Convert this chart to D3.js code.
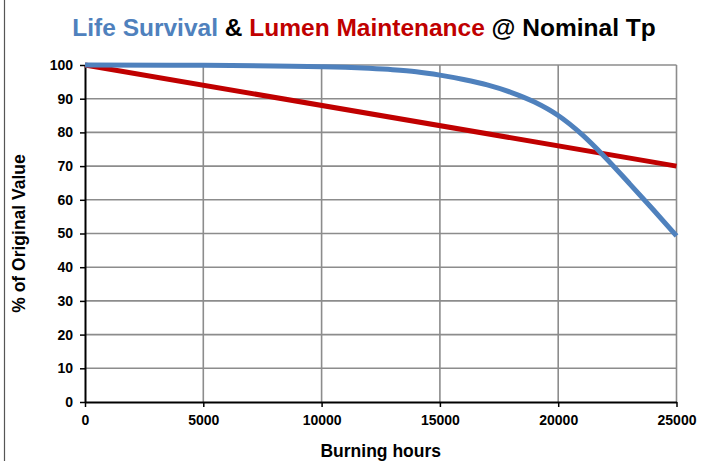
<!DOCTYPE html>
<html>
<head>
<meta charset="utf-8">
<script src="https://cdn.jsdelivr.net/npm/d3@7"></script>
<style>
html,body{margin:0;padding:0;background:#fff;}
svg{display:block;font-family:"Liberation Sans",Arial,sans-serif;}
</style>
</head>
<body>
<svg id="chart" width="717" height="461"></svg>
<script>
const hours = [0, 5000, 10000, 11000, 12000, 13000, 14000, 15000, 16000, 17000, 18000, 19000, 20000, 21000, 22000, 23000, 24000, 25000];
const lifeSurvival = [100, 99.9, 99.5, 99.3, 99.0, 98.6, 98.0, 97.0, 95.7, 94.1, 91.9, 89.0, 85.0, 79.4, 72.5, 64.9, 57.2, 49.3];
const lumenHours = [0, 25000];
const lumenMaintenance = [100, 70];
const xTicks = [0, 5000, 10000, 15000, 20000, 25000];
const yTicks = [0, 10, 20, 30, 40, 50, 60, 70, 80, 90, 100];

const svg = d3.select("#chart");
const W = 717, H = 461;
const m = {left: 85, right: W - 676.5, top: 65, bottom: H - 402};
const x = d3.scaleLinear().domain([0, 25000]).range([m.left, W - m.right]);
const y = d3.scaleLinear().domain([0, 100]).range([H - m.bottom, m.top]);

// left frame line
svg.append("line").attr("x1", 4.5).attr("x2", 4.5).attr("y1", 0).attr("y2", H)
  .attr("stroke", "#555").attr("stroke-width", 1.2);

// gridlines
const g = svg.append("g");
g.selectAll(".hg").data(yTicks.filter(d => d > 0)).join("line")
  .attr("x1", x(0)).attr("x2", x(25000))
  .attr("y1", d => y(d)).attr("y2", d => y(d))
  .attr("stroke", "#8c8c8c").attr("stroke-width", 1.6);
g.selectAll(".vg").data(xTicks.filter(d => d > 0)).join("line")
  .attr("x1", d => x(d)).attr("x2", d => x(d))
  .attr("y1", y(0)).attr("y2", y(100))
  .attr("stroke", "#8c8c8c").attr("stroke-width", 1.6);

// axes
const xAxis = svg.append("g").attr("transform", `translate(0,${y(0)})`)
  .call(d3.axisBottom(x).tickValues(xTicks).tickFormat(d3.format("d")).tickSize(5).tickSizeOuter(0));
const yAxis = svg.append("g").attr("transform", `translate(${x(0)},0)`)
  .call(d3.axisLeft(y).tickValues(yTicks).tickSize(5).tickSizeOuter(0));
[xAxis, yAxis].forEach(a => {
  a.select(".domain").attr("stroke", "#000").attr("stroke-width", 2);
  a.selectAll(".tick line").attr("stroke", "#000").attr("stroke-width", 1.5);
  a.selectAll(".tick text").attr("fill", "#000").attr("font-size", 14).attr("font-weight", "bold")
    .attr("font-family", "Liberation Sans, Arial, sans-serif");
});
xAxis.selectAll(".tick text").attr("dy", "1.1em");
yAxis.selectAll(".tick text").attr("x", -12);

// lines
const line = d3.line().x(d => x(d[0])).y(d => y(d[1])).curve(d3.curveMonotoneX);
svg.append("path").datum(lumenHours.map((h, i) => [h, lumenMaintenance[i]]))
  .attr("d", line).attr("fill", "none").attr("stroke", "#C00000").attr("stroke-width", 5);
svg.append("path").datum(hours.map((h, i) => [h, lifeSurvival[i]]))
  .attr("d", line).attr("fill", "none").attr("stroke", "#4F81BD").attr("stroke-width", 5);

// title
const t = svg.append("text").attr("x", 364).attr("y", 36).attr("text-anchor", "middle")
  .attr("font-size", 24.5).attr("font-weight", "bold");
t.append("tspan").attr("fill", "#4F81BD").text("Life Survival");
t.append("tspan").attr("fill", "#000").text(" & ");
t.append("tspan").attr("fill", "#C00000").text("Lumen Maintenance");
t.append("tspan").attr("fill", "#000").text(" @ Nominal Tp");

// axis titles
svg.append("text").attr("x", (x(0) + x(25000)) / 2).attr("y", 457).attr("text-anchor", "middle")
  .attr("font-size", 17.5).attr("font-weight", "bold").text("Burning hours");
svg.append("text").attr("transform", `translate(25,${(y(0) + y(100)) / 2}) rotate(-90)`)
  .attr("text-anchor", "middle").attr("font-size", 17.5).attr("font-weight", "bold")
  .text("% of Original Value");
</script>
</body>
</html>
